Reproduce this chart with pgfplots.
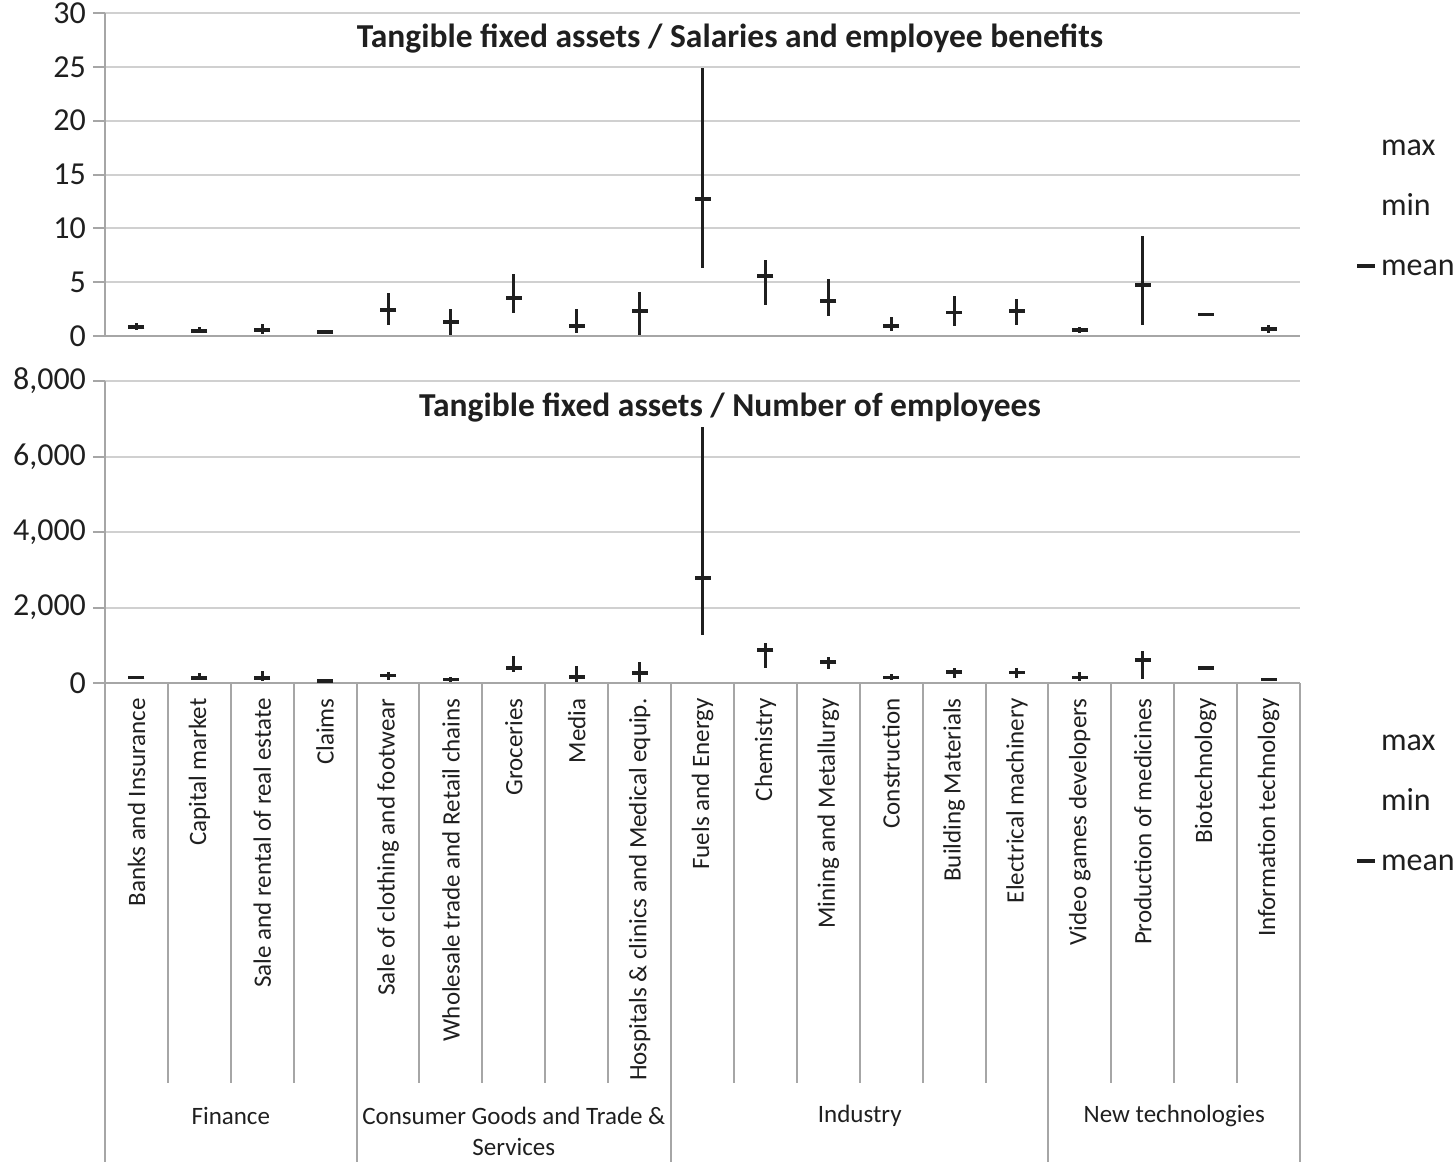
\documentclass[border=0pt]{standalone}
\usepackage{pgfplots}
\pgfplotsset{compat=1.18}
\usepackage{pgfplotstable}
\usepackage{fontspec}
\setmainfont{Carlito}
\definecolor{axisgray}{HTML}{A6A6A6}
\definecolor{gridgray}{HTML}{D0D0D0}
\definecolor{ink}{HTML}{1F1F1F}

\pgfplotstableread{
x mean max min
0 0.85 1.2 0.6
1 0.45 0.85 0.25
2 0.55 1.1 0.2
3 0.37 0.55 0.2
4 2.4 4.0 1.0
5 1.3 2.5 0.05
6 3.55 5.8 2.1
7 0.95 2.5 0.25
8 2.35 4.05 0.1
9 12.7 24.9 6.3
10 5.55 7.05 2.9
11 3.25 5.25 1.85
12 0.95 1.8 0.5
13 2.2 3.7 0.95
14 2.3 3.4 1.0
15 0.55 0.85 0.25
16 4.75 9.3 1.0
17 2.0 2.0 2.0
18 0.65 1.0 0.3
}\topdata

\pgfplotstableread{
x mean max min
0 150 180 120
1 125 255 80
2 130 320 50
3 55 80 25
4 195 285 80
5 95 150 20
6 395 715 285
7 165 450 35
8 265 565 25
9 2780 6780 1270
10 875 1050 390
11 550 680 360
12 150 240 80
13 285 405 125
14 275 405 125
15 150 300 55
16 610 860 105
17 390 390 390
18 95 95 95
}\botdata

\pgfplotsset{
  common/.style={
    scale only axis, width=597.5pt, xmin=-0.5, xmax=18.5,
    axis lines*=left, axis line style={axisgray, line width=1pt},
    ymajorgrids, grid style={gridgray, line width=1pt},
    ytick style={axisgray, line width=1pt}, tick align=outside, major tick length=6pt,
    yticklabel={\pgfmathprintnumber{\tick}},
    yticklabel style={font=\fontsize{16}{19}\selectfont, text=ink},
    /pgf/number format/assume math mode=true,
    /pgf/number format/1000 sep={,},
    clip=false,
    legend cell align=left,
    legend style={draw=none, fill=none, font=\fontsize{16}{19}\selectfont, text=ink, row sep=17pt,
      nodes={text height=9pt, text depth=0pt}, anchor=north west},
  },
  hilo/.style={only marks, mark=-, mark size=4pt, mark options={line width=1.8pt, ink},
    error bars/y dir=both, error bars/y explicit, error bars/error mark=none,
    error bars/error bar style={line width=1.5pt, ink},
    legend image code/.code={\draw[line width=1.8pt, ink] (0pt,0pt) -- (9pt,0pt);}},
}

\begin{document}
\begin{tikzpicture}
\begin{axis}[common, name=top, at={(0,0)}, anchor=north west,
  height=161.5pt, ymin=0, ymax=30, ytick={0,5,...,30}, xtick=\empty,
  legend style={at={(axis description cs:1.041,0.6415)}}]
\addlegendimage{legend image code/.code={}}
\addlegendentry{max}
\addlegendimage{legend image code/.code={}}
\addlegendentry{min}
\addplot[hilo]
  table[x=x, y=mean, y error plus expr=\thisrow{max}-\thisrow{mean}, y error minus expr=\thisrow{mean}-\thisrow{min}] {\topdata};
\addlegendentry{mean}
\node[font=\bfseries\fontsize{16.75}{19}\selectfont, text=ink] at (axis description cs:0.523,0.92) {Tangible fixed assets / Salaries and employee benefits};
\end{axis}

\begin{axis}[common, name=bot, at={(0,-184pt)}, anchor=north west,
  height=151pt, ymin=0, ymax=8000, ytick={0,2000,...,8000},
  xtick={0,...,18}, xtick style={draw=none},
  xticklabels={Banks and Insurance, Capital market, Sale and rental of real estate, Claims, Sale of clothing and footwear, Wholesale trade and Retail chains, Groceries, Media, Hospitals \& clinics and Medical equip., Fuels and Energy, Chemistry, Mining and Metallurgy, Construction, Building Materials, Electrical machinery, Video games developers, Production of medicines, Biotechnology, Information technology},
  xticklabel style={rotate=90, anchor=east, inner sep=1.5pt, font=\fontsize{12.5}{15}\selectfont, text=ink},
  legend style={at={(axis description cs:1.041,-0.135)}}]
\addlegendimage{legend image code/.code={}}
\addlegendentry{max}
\addlegendimage{legend image code/.code={}}
\addlegendentry{min}
\addplot[hilo]
  table[x=x, y=mean, y error plus expr=\thisrow{max}-\thisrow{mean}, y error minus expr=\thisrow{mean}-\thisrow{min}] {\botdata};
\addlegendentry{mean}
\node[font=\bfseries\fontsize{16.75}{19}\selectfont, text=ink] at (axis description cs:0.523,0.913) {Tangible fixed assets / Number of employees};
\pgfplotsinvokeforeach{0.5,1.5,2.5,4.5,5.5,6.5,7.5,9.5,10.5,11.5,12.5,13.5,15.5,16.5,17.5}{
  \draw[axisgray, line width=1pt] (axis cs:#1,0) -- ([yshift=-200pt]axis cs:#1,0);
}
\pgfplotsinvokeforeach{-0.5,3.5,8.5,14.5,18.5}{
  \draw[axisgray, line width=1pt] (axis cs:#1,0) -- ([yshift=-239.5pt]axis cs:#1,0);
}
\node[font=\fontsize{12.5}{15.5}\selectfont, text=ink] at ([yshift=-216.5pt]axis cs:1.5,0) {Finance};
\node[font=\fontsize{12.5}{15.5}\selectfont, text=ink, align=center] at ([yshift=-224pt]axis cs:6,0) {Consumer Goods and Trade \&\\Services};
\node[font=\fontsize{12.5}{15.5}\selectfont, text=ink] at ([yshift=-216.5pt]axis cs:11.5,0) {Industry};
\node[font=\fontsize{12.5}{15.5}\selectfont, text=ink] at ([yshift=-216.5pt]axis cs:16.5,0) {New technologies};
\end{axis}
\pgfresetboundingbox
\path[use as bounding box] (-52.5pt,6.5pt) rectangle (675pt,-575.5pt);
\end{tikzpicture}
\end{document}
